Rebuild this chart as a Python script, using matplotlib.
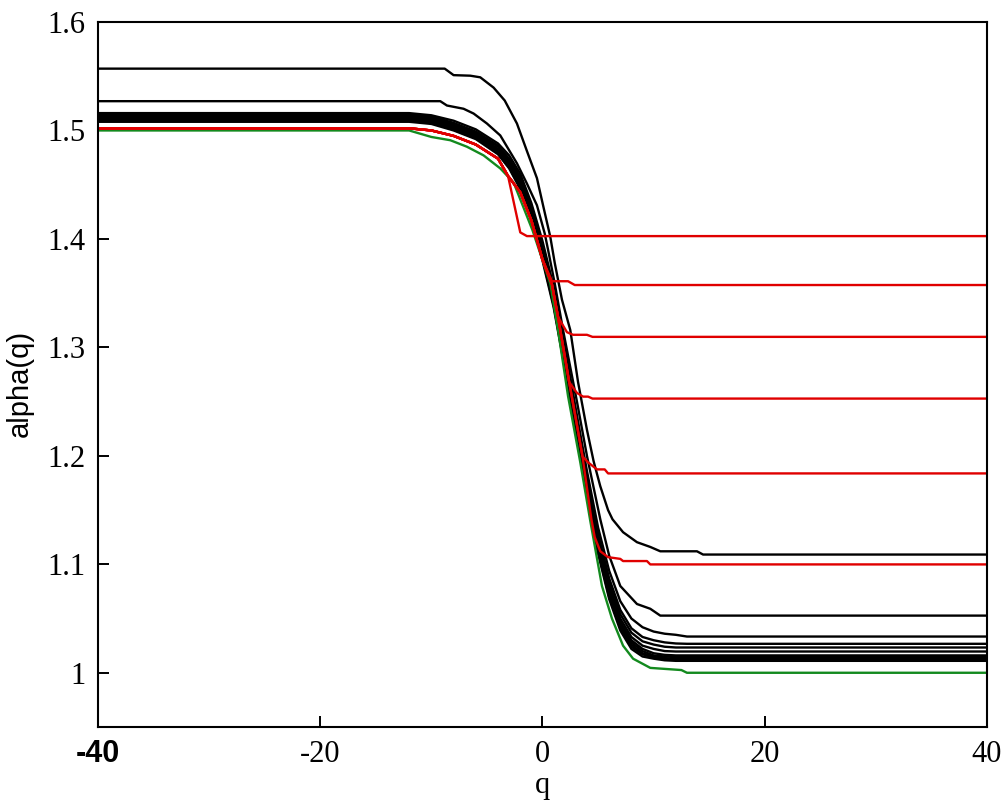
import numpy as np
import matplotlib
matplotlib.use('Agg')
import matplotlib.pyplot as plt

# ---- data ----
# green curve
green_q = [-40, -12, -10, -8.3, -6.8, -5.3, -3.8, -2.6, -0.9, 0.7, 1.4, 2.3, 3.4, 4.3, 5.35, 6.25, 7.25, 8.15, 9.7, 12.5, 13, 40]
green_a = [1.5, 1.5, 1.494, 1.491, 1.485, 1.477, 1.465, 1.452, 1.408, 1.359, 1.316, 1.255, 1.194, 1.14, 1.08, 1.05, 1.025, 1.013, 1.0045, 1.0025, 1.0, 1.0]

# red curves
red1_q = [-40, -12, -10, -8, -6, -4, -3.1, -2.0, -1.4, 40]
red1_a = [1.502, 1.502, 1.500, 1.495, 1.487, 1.474, 1.458, 1.406, 1.4026, 1.4026]
red2_q = [-40, -12, -10, -8, -6, -4, -3.1, -2, -1, 0, 0.85, 2.3, 2.9, 40]
red2_a = [1.502, 1.502, 1.500, 1.495, 1.487, 1.474, 1.458, 1.443, 1.417, 1.381, 1.361, 1.361, 1.3575, 1.3575]
red3_q = [-40, -12, -10, -8, -6, -4, -3.1, -2, -1, 0, 0.85, 1.4, 2.2, 2.75, 4.0, 4.5, 40]
red3_a = [1.502, 1.502, 1.500, 1.495, 1.487, 1.474, 1.458, 1.443, 1.417, 1.381, 1.358, 1.328, 1.314, 1.3116, 1.3116, 1.3097, 1.3097]
red4_q = [-40, -12, -10, -8, -6, -4, -3.1, -2, -1, 0, 0.85, 1.4, 2.4, 3.1, 3.65, 4.1, 4.5, 40]
red4_a = [1.502, 1.502, 1.500, 1.495, 1.487, 1.474, 1.458, 1.443, 1.417, 1.381, 1.358, 1.328, 1.268, 1.258, 1.2546, 1.2546, 1.2528, 1.2528]
red5_q = [-40, -12, -10, -8, -6, -4, -3.1, -2, -1, 0, 0.85, 1.4, 2.4, 3.0, 3.6, 4.1, 4.9, 5.6, 5.9, 40]
red5_a = [1.502, 1.502, 1.500, 1.495, 1.487, 1.474, 1.458, 1.443, 1.417, 1.381, 1.358, 1.328, 1.268, 1.234, 1.1994, 1.194, 1.1875, 1.1875, 1.1838, 1.1838]
red6_q = [-40, -12, -10, -8, -6, -4, -3.1, -2, -1, 0, 0.85, 1.4, 2.4, 3.0, 3.6, 4.4, 4.7, 5.2, 5.9, 7.0, 7.25, 9.4, 9.7, 40]
red6_a = [1.502, 1.502, 1.500, 1.495, 1.487, 1.474, 1.458, 1.443, 1.417, 1.381, 1.358, 1.328, 1.268, 1.234, 1.1994, 1.1415, 1.125, 1.112, 1.1066, 1.105, 1.103, 1.103, 1.0999, 1.0999]

# black curves, outer two
black1_q = [-40, -8.8, -8, -6.5, -5.6, -4.4, -3.4, -2.3, -1.4, -0.5, 0.05, 0.7, 1.1, 1.75, 2.5, 3.2, 4.0, 4.6, 5.2, 5.9, 6.3, 7.25, 8.5, 9.7, 10.6, 13.9, 14.45, 40]
black1_a = [1.557, 1.557, 1.551, 1.5505, 1.549, 1.5395, 1.5276, 1.5064, 1.481, 1.456, 1.431, 1.402, 1.378, 1.344, 1.316, 1.268, 1.224, 1.195, 1.172, 1.150, 1.1415, 1.1296, 1.1204, 1.116, 1.112, 1.112, 1.109, 1.109]
black2_q = [-40, -9.2, -8.6, -7.1, -6.2, -5.0, -3.8, -2.3, -1.4, -0.5, 0.2, 0.5, 1.1, 1.85, 3.1, 4.0, 5.2, 6.0, 7.0, 8.5, 9.7, 10.6, 40]
black2_a = [1.527, 1.527, 1.523, 1.520, 1.5156, 1.5064, 1.4954, 1.4697, 1.451, 1.431, 1.405, 1.390, 1.359, 1.316, 1.250, 1.200, 1.1415, 1.108, 1.080, 1.0634, 1.059, 1.0527, 1.0527]

# black bundle, shared q grid
bundle_q = [-40, -12, -10, -8, -6, -4, -3, -2, -1, 0, 1, 2, 3, 4, 5, 6, 7, 8, 9, 10, 11, 12, 13, 40]
bundle_a = [
    [1.516, 1.516, 1.514, 1.509, 1.501, 1.488, 1.477, 1.460, 1.433, 1.398, 1.356, 1.302, 1.243, 1.186, 1.134, 1.094, 1.066, 1.050, 1.042, 1.038, 1.036, 1.035, 1.0334, 1.0334],
    [1.515, 1.515, 1.513, 1.507, 1.499, 1.486, 1.474, 1.457, 1.430, 1.394, 1.352, 1.297, 1.238, 1.180, 1.128, 1.087, 1.058, 1.041, 1.033, 1.030, 1.028, 1.027, 1.0267, 1.0267],
    [1.514, 1.514, 1.512, 1.506, 1.498, 1.485, 1.473, 1.455, 1.428, 1.392, 1.349, 1.294, 1.235, 1.177, 1.124, 1.083, 1.054, 1.037, 1.029, 1.026, 1.024, 1.0233, 1.0233, 1.0233],
    [1.513, 1.513, 1.511, 1.505, 1.497, 1.483, 1.471, 1.453, 1.426, 1.390, 1.347, 1.291, 1.232, 1.174, 1.121, 1.079, 1.050, 1.033, 1.025, 1.022, 1.020, 1.0196, 1.0196, 1.0196],
    [1.512, 1.512, 1.510, 1.504, 1.496, 1.482, 1.470, 1.452, 1.424, 1.388, 1.345, 1.289, 1.230, 1.171, 1.118, 1.076, 1.047, 1.030, 1.022, 1.018, 1.0165, 1.016, 1.016, 1.016],
    [1.511, 1.511, 1.509, 1.503, 1.495, 1.481, 1.469, 1.450, 1.422, 1.386, 1.343, 1.287, 1.228, 1.169, 1.116, 1.074, 1.045, 1.028, 1.020, 1.016, 1.015, 1.0145, 1.0145, 1.0145],
    [1.510, 1.510, 1.508, 1.502, 1.494, 1.480, 1.467, 1.449, 1.421, 1.384, 1.341, 1.285, 1.226, 1.167, 1.114, 1.072, 1.043, 1.026, 1.018, 1.015, 1.0135, 1.013, 1.013, 1.013],
    [1.509, 1.509, 1.507, 1.501, 1.493, 1.479, 1.466, 1.447, 1.419, 1.382, 1.339, 1.283, 1.224, 1.165, 1.112, 1.070, 1.041, 1.024, 1.017, 1.014, 1.0125, 1.012, 1.012, 1.012],
    [1.508, 1.508, 1.506, 1.500, 1.492, 1.478, 1.465, 1.446, 1.417, 1.380, 1.337, 1.281, 1.222, 1.163, 1.110, 1.068, 1.039, 1.022, 1.015, 1.013, 1.0115, 1.011, 1.011, 1.011],
]

xticks = [-40, -20, 0, 20, 40]
xticklabels = ['-40', '-20', '0', '20', '40']
yticks = [1.0, 1.1, 1.2, 1.3, 1.4, 1.5, 1.6]
yticklabels = ['1', '1.1', '1.2', '1.3', '1.4', '1.5', '1.6']

# ---- plot ----
fig = plt.figure(figsize=(10.03, 8.0), dpi=100)
ax = fig.add_axes([98 / 1003, 1 - 727 / 800, 889 / 1003, 705 / 800])

lw = 1.7
red = '#e00000'
green = '#138a1e'

ax.plot(black1_q, black1_a, color='black', lw=lw)
ax.plot(black2_q, black2_a, color='black', lw=lw)
for a in bundle_a:
    ax.plot(bundle_q, a, color='black', lw=lw)

ax.plot(green_q, green_a, color=green, lw=lw)

for q, a in [(red1_q, red1_a), (red2_q, red2_a), (red3_q, red3_a),
             (red4_q, red4_a), (red5_q, red5_a), (red6_q, red6_a)]:
    ax.plot(q, a, color=red, lw=lw)

ax.set_xlim(-40, 40)
ax.set_ylim(0.95, 1.6)

for s in ax.spines.values():
    s.set_linewidth(1.5)

ax.set_xticks(xticks)
ax.set_xticklabels(xticklabels, fontfamily='Liberation Serif', fontsize=22)
ax.set_yticks(yticks)
ax.set_yticklabels(yticklabels, fontfamily='Liberation Serif', fontsize=22)
ax.tick_params(direction='in', length=8, width=1.4, pad=9)
lab0 = ax.get_xticklabels()[0]
lab0.set_fontfamily('Liberation Sans')
lab0.set_fontweight('bold')

ax.set_xlabel('q', fontfamily='Liberation Serif', fontsize=22)
ax.xaxis.set_label_coords(0.5, -(785 - 727) / 705)
ax.xaxis.label.set_va('center')
ax.set_ylabel('alpha(q)', fontfamily='Liberation Sans', fontsize=21)
ax.yaxis.set_label_coords(-(98 - 20) / 889, (727 - 383) / 705)
ax.yaxis.label.set_va('center')

fig.savefig('out.png', dpi=100)
